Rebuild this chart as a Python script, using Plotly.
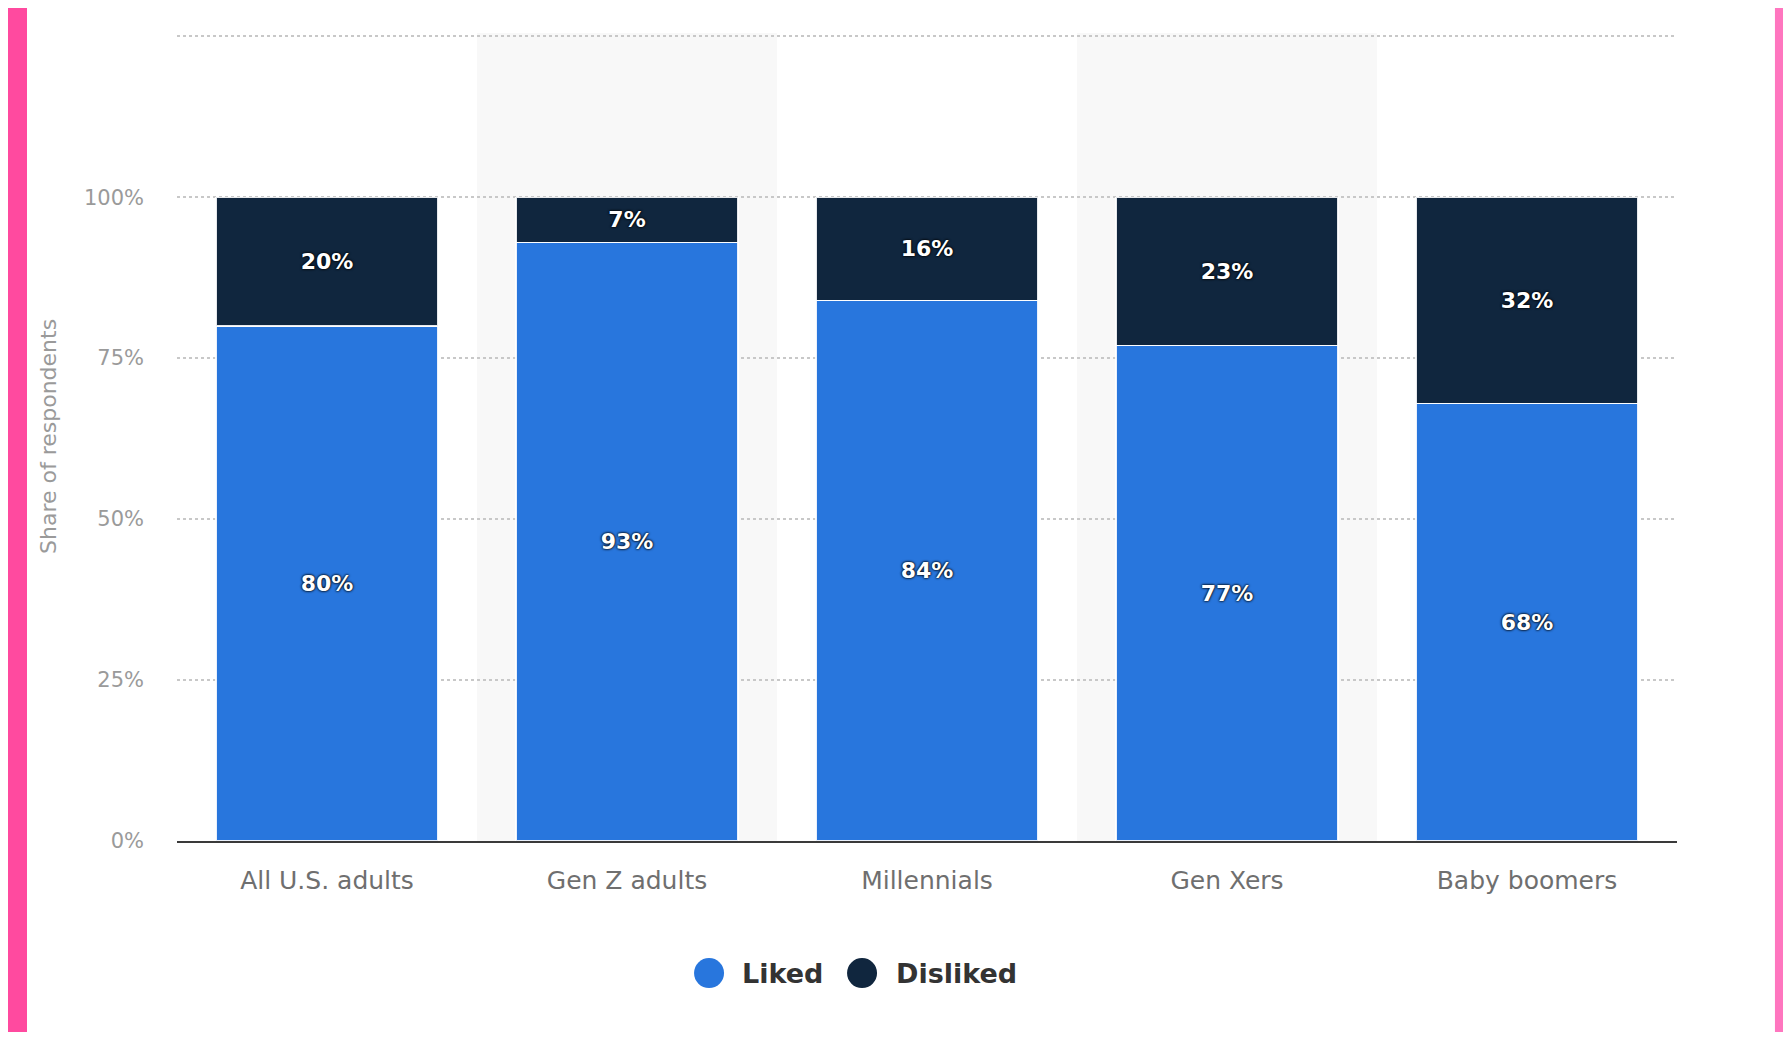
import plotly.graph_objects as go

categories = ["All U.S. adults", "Gen Z adults", "Millennials", "Gen Xers", "Baby boomers"]
liked = [80, 93, 84, 77, 68]
disliked = [20, 7, 16, 23, 32]
series_names = ["Liked", "Disliked"]
colors = ["#2876dd", "#10263e"]
tick_vals = [0, 25, 50, 75, 100, 125]
tick_text = ["0%", "25%", "50%", "75%", "100%", ""]

FONT = "DejaVu Sans"

fig = go.Figure()
for name, vals, col in zip(series_names, [liked, disliked], colors):
    fig.add_trace(go.Bar(
        x=categories, y=vals, name=name,
        marker=dict(color=col, line=dict(color="rgba(255,255,255,0.9)", width=1.2)),
        text=[f"{v}%" for v in vals],
        textposition="inside", insidetextanchor="middle",
        textfont=dict(family=FONT, size=22, color="white", weight="bold",
                      shadow="0px 0px 3px #000, 0px 0px 2px #000"),
        textangle=0,
        showlegend=False,
        hoverinfo="skip",
    ))

shapes = []
# lighter pink on the right edge
shapes.append(dict(type="rect", xref="paper", yref="paper",
                   x0=0.9, x1=1.2, y0=-0.3, y1=1.1,
                   fillcolor="#ff76bf", line=dict(width=0), layer="below"))
# white card over pink background
shapes.append(dict(type="rect", xref="paper", yref="paper",
                   x0=-0.1, x1=1.0653, y0=-0.3, y1=1.04,
                   fillcolor="white", line=dict(width=0), layer="below"))
# alternating light bands
for i, c in enumerate(categories):
    if i % 2 == 1:
        shapes.append(dict(type="rect", xref="x", yref="y",
                           x0=i - 0.5, x1=i + 0.5, y0=0, y1=125.5,
                           fillcolor="#f8f8f8", line=dict(width=0), layer="below"))

# legend (circles + labels)
leg_items = [(0.3547, 0.3753), (0.4567, 0.478)]
annotations = []
for (cx, tx), name, col in zip(leg_items, series_names, colors):
    shapes.append(dict(type="circle", xref="paper", yref="paper",
                       xsizemode="pixel", ysizemode="pixel",
                       xanchor=cx, yanchor=-0.1634,
                       x0=-15, x1=15, y0=-15, y1=15,
                       fillcolor=col, line=dict(width=0)))
    annotations.append(dict(xref="paper", yref="paper", x=tx, y=-0.1634,
                            text=f"<b>{name}</b>", showarrow=False,
                            xanchor="left", yanchor="middle",
                            font=dict(family=FONT, size=27, color="#333333")))

annotations.append(dict(xref="paper", yref="paper", x=-0.086, y=0.5,
                        text="Share of respondents", textangle=-90, showarrow=False,
                        xanchor="center", yanchor="middle",
                        font=dict(family=FONT, size=22, color="#9a9a9a")))

fig.update_layout(
    width=1775, height=1024,
    margin=dict(l=169, r=106, t=25, b=191),
    paper_bgcolor="#ff4a9f",
    plot_bgcolor="rgba(0,0,0,0)",
    barmode="stack",
    bargap=0.26,
    shapes=shapes,
    annotations=annotations,
    font=dict(family=FONT),
    xaxis=dict(
        showgrid=False, showline=True, linecolor="#3a3a3a", linewidth=2,
        tickfont=dict(family=FONT, size=25, color="#6f6f6f"),
        ticks="", ticklabelstandoff=16, fixedrange=True,
    ),
    yaxis=dict(
        range=[0, 125.5], tickvals=tick_vals, ticktext=tick_text,
        showgrid=True, gridcolor="#c8c8c8", griddash="dot", gridwidth=1.5,
        zeroline=False, showline=False,
        tickfont=dict(family=FONT, size=21, color="#9a9a9a"),
        ticks="", ticklabelstandoff=32, fixedrange=True,
    ),
)

fig.write_html("out.html")
